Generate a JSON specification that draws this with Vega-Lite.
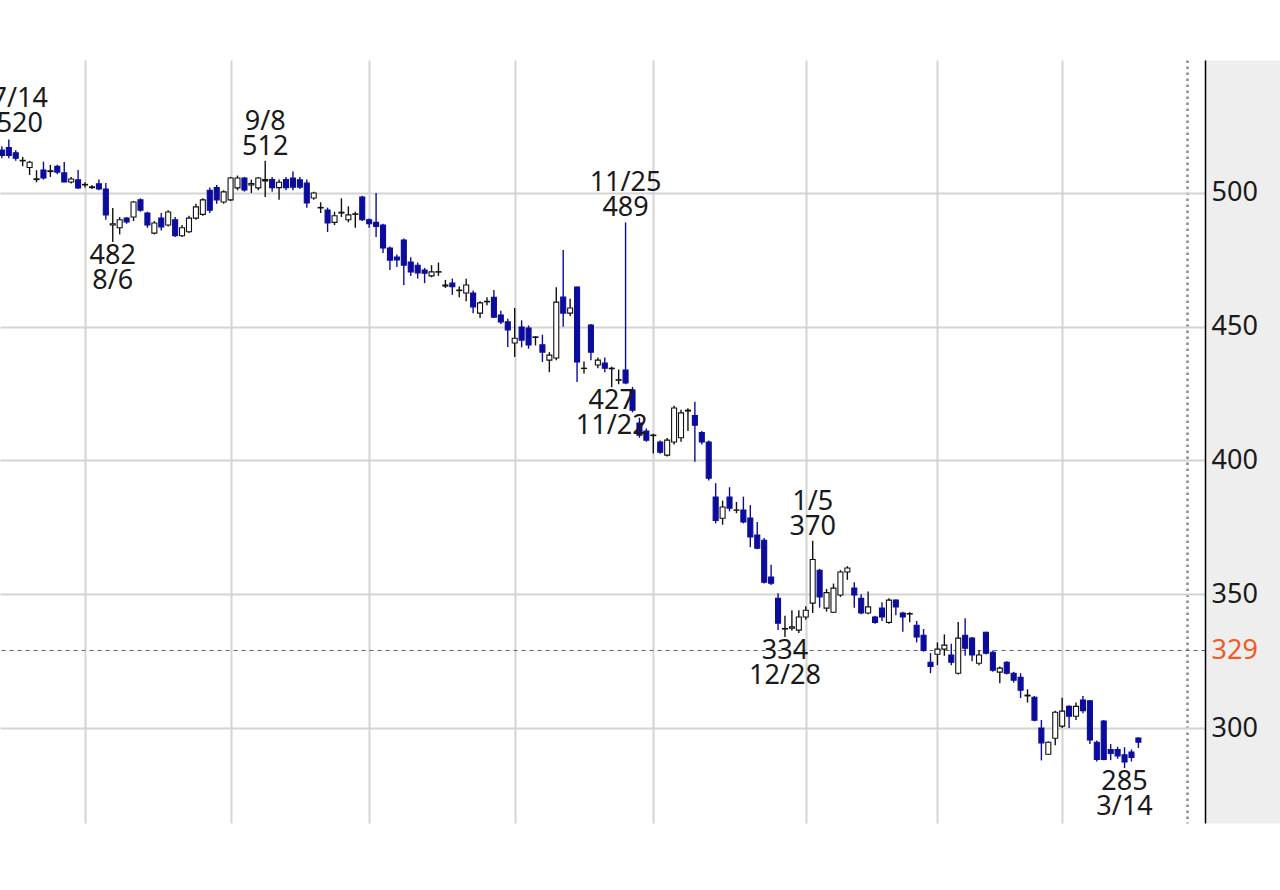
{
  "$schema": "https://vega.github.io/schema/vega-lite/v6.json",
  "width": 1205,
  "height": 763,
  "autosize": {"type": "none"},
  "padding": {"left": 0, "top": 60, "right": 75, "bottom": 67},
  "background": "#ffffff",
  "view": {"stroke": null},
  "data": {"values": [
    {"d":"2021-07-13","o":516,"h":517.5,"l":513,"c":514},
    {"d":"2021-07-14","o":517,"h":520,"l":513,"c":514,"lab":"7/14\n520","pos":"edge"},
    {"d":"2021-07-15","o":515,"h":516,"l":512,"c":513},
    {"d":"2021-07-16","o":512,"h":513.5,"l":510,"c":512.2},
    {"d":"2021-07-19","o":509.5,"h":512,"l":506.7,"c":511.5},
    {"d":"2021-07-20","o":505,"h":508.5,"l":504,"c":505.3},
    {"d":"2021-07-21","o":508.6,"h":511.7,"l":505,"c":505.6},
    {"d":"2021-07-26","o":508,"h":510.5,"l":506,"c":508.3},
    {"d":"2021-07-27","o":510,"h":510.5,"l":507,"c":507.8},
    {"d":"2021-07-28","o":507.5,"h":511.6,"l":504,"c":504.1},
    {"d":"2021-07-29","o":504.1,"h":506,"l":503.5,"c":505.2},
    {"d":"2021-07-30","o":504.9,"h":508.6,"l":501.5,"c":501.9},
    {"d":"2021-08-02","o":503,"h":504,"l":502,"c":503.2},
    {"d":"2021-08-03","o":502,"h":503,"l":501.5,"c":502.3},
    {"d":"2021-08-04","o":503.4,"h":505,"l":501,"c":501.5},
    {"d":"2021-08-05","o":501.5,"h":503.7,"l":490,"c":491.8},
    {"d":"2021-08-06","o":488,"h":494.4,"l":481.7,"c":488.5,"lab":"482\n8/6","pos":"lo"},
    {"d":"2021-08-10","o":487,"h":491,"l":484.5,"c":490},
    {"d":"2021-08-11","o":490.6,"h":491,"l":488.5,"c":489.2},
    {"d":"2021-08-12","o":491,"h":497,"l":489.5,"c":496.6},
    {"d":"2021-08-13","o":497.4,"h":498,"l":493,"c":493.6},
    {"d":"2021-08-16","o":492.5,"h":493,"l":487,"c":488},
    {"d":"2021-08-17","o":485,"h":489.5,"l":484.5,"c":488.8},
    {"d":"2021-08-18","o":490.6,"h":492.5,"l":486,"c":487.3},
    {"d":"2021-08-19","o":488,"h":493.5,"l":487.5,"c":492.9},
    {"d":"2021-08-20","o":490,"h":491,"l":483.5,"c":484},
    {"d":"2021-08-23","o":484,"h":488,"l":483.5,"c":487},
    {"d":"2021-08-24","o":485.5,"h":491.5,"l":485,"c":490.6},
    {"d":"2021-08-25","o":490.6,"h":496,"l":490,"c":494.8},
    {"d":"2021-08-26","o":492,"h":498,"l":491.5,"c":497.4},
    {"d":"2021-08-27","o":501,"h":502,"l":492.5,"c":493.6},
    {"d":"2021-08-30","o":502,"h":503,"l":496,"c":497.4},
    {"d":"2021-08-31","o":496.6,"h":501,"l":496,"c":500.4},
    {"d":"2021-09-01","o":497.4,"h":506,"l":497,"c":505.6},
    {"d":"2021-09-02","o":501.9,"h":506.5,"l":501,"c":505.6},
    {"d":"2021-09-03","o":505.6,"h":506,"l":500.5,"c":501.1},
    {"d":"2021-09-06","o":503,"h":505,"l":500,"c":503.5},
    {"d":"2021-09-07","o":501.9,"h":506,"l":501,"c":505.6},
    {"d":"2021-09-08","o":504.5,"h":512,"l":498.5,"c":505,"lab":"9/8\n512","pos":"hi"},
    {"d":"2021-09-09","o":505,"h":506,"l":500.5,"c":502},
    {"d":"2021-09-10","o":502,"h":505,"l":497.5,"c":504},
    {"d":"2021-09-13","o":505,"h":506,"l":501,"c":502},
    {"d":"2021-09-14","o":505.6,"h":508,"l":501,"c":502.2},
    {"d":"2021-09-15","o":504.9,"h":506,"l":501.5,"c":502.2},
    {"d":"2021-09-16","o":503.7,"h":505,"l":494.5,"c":496.3},
    {"d":"2021-09-17","o":498.1,"h":500.5,"l":497.5,"c":500},
    {"d":"2021-09-21","o":494.4,"h":496.5,"l":492.5,"c":494.6},
    {"d":"2021-09-22","o":493.6,"h":494.5,"l":485.4,"c":488.8},
    {"d":"2021-09-24","o":489,"h":493,"l":488,"c":491.5},
    {"d":"2021-09-27","o":492.5,"h":498,"l":491,"c":492.8},
    {"d":"2021-09-28","o":490,"h":495,"l":489,"c":491.8},
    {"d":"2021-09-29","o":492,"h":493,"l":487,"c":492.2},
    {"d":"2021-09-30","o":498.5,"h":499,"l":489.5,"c":490},
    {"d":"2021-10-01","o":490,"h":490.5,"l":487,"c":488.5},
    {"d":"2021-10-04","o":489,"h":500,"l":483.5,"c":487.5},
    {"d":"2021-10-05","o":488,"h":488.5,"l":477.6,"c":479.4},
    {"d":"2021-10-06","o":479.4,"h":480,"l":471.2,"c":474.9},
    {"d":"2021-10-07","o":476,"h":477,"l":472.3,"c":475},
    {"d":"2021-10-08","o":482.4,"h":483,"l":465.6,"c":473},
    {"d":"2021-10-11","o":474.2,"h":476,"l":469,"c":470.5},
    {"d":"2021-10-12","o":473,"h":474,"l":468,"c":470.1},
    {"d":"2021-10-13","o":471.2,"h":472,"l":466.3,"c":470},
    {"d":"2021-10-14","o":469,"h":473,"l":468.5,"c":470.5},
    {"d":"2021-10-15","o":470.4,"h":474,"l":469,"c":470.6},
    {"d":"2021-10-18","o":465.2,"h":467.5,"l":464.5,"c":465.6},
    {"d":"2021-10-19","o":466.3,"h":468,"l":461.9,"c":465},
    {"d":"2021-10-20","o":463.5,"h":465,"l":461,"c":463.7},
    {"d":"2021-10-21","o":462.6,"h":467.9,"l":459.5,"c":465.6},
    {"d":"2021-10-22","o":462.6,"h":463.5,"l":455,"c":457.4},
    {"d":"2021-10-25","o":455.1,"h":459.5,"l":453.3,"c":458.9},
    {"d":"2021-10-26","o":459.3,"h":461,"l":458,"c":459.5},
    {"d":"2021-10-27","o":461,"h":463.7,"l":453.3,"c":453.6},
    {"d":"2021-10-28","o":454.4,"h":456,"l":451,"c":451.8},
    {"d":"2021-10-29","o":451.8,"h":453,"l":442.4,"c":448.8},
    {"d":"2021-11-01","o":443.9,"h":457,"l":438.7,"c":445.7},
    {"d":"2021-11-02","o":449.9,"h":452.4,"l":442.3,"c":445},
    {"d":"2021-11-04","o":449.5,"h":450.5,"l":441.8,"c":443.2},
    {"d":"2021-11-05","o":446,"h":446.5,"l":443,"c":446.2},
    {"d":"2021-11-08","o":443.2,"h":447,"l":436.8,"c":440.5},
    {"d":"2021-11-09","o":437.5,"h":440.5,"l":433,"c":439.4},
    {"d":"2021-11-10","o":438.3,"h":464.8,"l":437.5,"c":459.2},
    {"d":"2021-11-11","o":461.1,"h":478.7,"l":450,"c":455.1},
    {"d":"2021-11-12","o":455.1,"h":460.5,"l":454,"c":457},
    {"d":"2021-11-15","o":464.8,"h":465,"l":429.3,"c":436.8},
    {"d":"2021-11-16","o":434.4,"h":437,"l":432.5,"c":434.5},
    {"d":"2021-11-17","o":450.6,"h":451,"l":437.5,"c":440.5},
    {"d":"2021-11-18","o":435.7,"h":438.5,"l":434.5,"c":437.5},
    {"d":"2021-11-19","o":436.4,"h":438.5,"l":433,"c":434.5},
    {"d":"2021-11-22","o":434.3,"h":435,"l":427.4,"c":434.5,"lab":"427\n11/22","pos":"lo"},
    {"d":"2021-11-24","o":430,"h":434,"l":428.5,"c":430.2},
    {"d":"2021-11-25","o":433.8,"h":489,"l":428.5,"c":429,"lab":"11/25\n489","pos":"hi"},
    {"d":"2021-11-26","o":426.3,"h":427.5,"l":418,"c":418.8},
    {"d":"2021-11-29","o":414,"h":416,"l":408.5,"c":409.5},
    {"d":"2021-11-30","o":411,"h":412,"l":407,"c":407.6},
    {"d":"2021-12-01","o":409.3,"h":410,"l":402.6,"c":409.5},
    {"d":"2021-12-02","o":406.9,"h":407.5,"l":402.5,"c":403.1},
    {"d":"2021-12-03","o":402,"h":408.4,"l":401.5,"c":407.6},
    {"d":"2021-12-06","o":406.9,"h":420.5,"l":406,"c":419.6},
    {"d":"2021-12-07","o":408.5,"h":419,"l":407,"c":417.8},
    {"d":"2021-12-08","o":418.5,"h":419.5,"l":411,"c":418.8},
    {"d":"2021-12-09","o":416.8,"h":422,"l":399.5,"c":413.2},
    {"d":"2021-12-10","o":410.4,"h":411,"l":406,"c":406.9},
    {"d":"2021-12-13","o":406.9,"h":407.5,"l":392.5,"c":393.4},
    {"d":"2021-12-14","o":386.3,"h":391.5,"l":376.5,"c":377.6},
    {"d":"2021-12-15","o":378.4,"h":385,"l":376,"c":382.6},
    {"d":"2021-12-16","o":386.3,"h":390,"l":381,"c":382.2},
    {"d":"2021-12-17","o":381.4,"h":384.5,"l":380.3,"c":381.5},
    {"d":"2021-12-20","o":381.5,"h":386.5,"l":376.5,"c":377},
    {"d":"2021-12-21","o":378.5,"h":383.3,"l":367.6,"c":371.4},
    {"d":"2021-12-22","o":372.1,"h":377,"l":366.8,"c":367.2},
    {"d":"2021-12-23","o":370.2,"h":371,"l":354,"c":354.5},
    {"d":"2021-12-24","o":356.4,"h":361,"l":353.5,"c":354.1},
    {"d":"2021-12-27","o":348.5,"h":350.4,"l":336.6,"c":339.2},
    {"d":"2021-12-28","o":337,"h":342,"l":334,"c":337.2,"lab":"334\n12/28","pos":"lo"},
    {"d":"2021-12-29","o":337.3,"h":344,"l":336.5,"c":337.8},
    {"d":"2021-12-30","o":336.6,"h":344,"l":335.5,"c":341.5},
    {"d":"2022-01-04","o":341.5,"h":345.5,"l":340.5,"c":344},
    {"d":"2022-01-05","o":346.7,"h":370,"l":343,"c":363,"lab":"1/5\n370","pos":"hi"},
    {"d":"2022-01-06","o":359,"h":359.5,"l":345,"c":349},
    {"d":"2022-01-07","o":344.8,"h":352,"l":343.5,"c":350.6},
    {"d":"2022-01-11","o":343.3,"h":354,"l":343,"c":352.3},
    {"d":"2022-01-12","o":349.7,"h":359,"l":349,"c":358.3},
    {"d":"2022-01-13","o":358.3,"h":360.5,"l":355.4,"c":359.8},
    {"d":"2022-01-14","o":352.3,"h":354.5,"l":345,"c":349.7},
    {"d":"2022-01-17","o":348.5,"h":350,"l":342.5,"c":343},
    {"d":"2022-01-18","o":343,"h":351,"l":342.5,"c":345.3},
    {"d":"2022-01-19","o":341.5,"h":342,"l":339,"c":339.5},
    {"d":"2022-01-20","o":344.8,"h":347,"l":340,"c":341.5},
    {"d":"2022-01-21","o":339.5,"h":348.5,"l":339,"c":347.8},
    {"d":"2022-01-24","o":347.8,"h":348,"l":342.2,"c":345.3},
    {"d":"2022-01-25","o":343,"h":343.5,"l":336,"c":341.5},
    {"d":"2022-01-26","o":342.6,"h":343.3,"l":339.5,"c":342.8},
    {"d":"2022-01-27","o":338.4,"h":340,"l":332,"c":334},
    {"d":"2022-01-28","o":334.7,"h":337,"l":328.5,"c":329},
    {"d":"2022-01-31","o":324.6,"h":328,"l":320.5,"c":323},
    {"d":"2022-02-01","o":327.6,"h":332,"l":323.5,"c":329.5},
    {"d":"2022-02-02","o":329.5,"h":335,"l":327,"c":331},
    {"d":"2022-02-03","o":327.3,"h":331.5,"l":323.5,"c":324.6},
    {"d":"2022-02-04","o":320.5,"h":339.6,"l":320,"c":333.6},
    {"d":"2022-02-07","o":334.7,"h":341,"l":327,"c":329.8},
    {"d":"2022-02-08","o":333.6,"h":334,"l":325,"c":327.3},
    {"d":"2022-02-09","o":324.2,"h":329,"l":323.5,"c":327.3},
    {"d":"2022-02-10","o":335.8,"h":336,"l":327.5,"c":328},
    {"d":"2022-02-14","o":328.3,"h":329,"l":321,"c":321.6},
    {"d":"2022-02-15","o":320.9,"h":323,"l":316.7,"c":322.4},
    {"d":"2022-02-16","o":324.6,"h":325,"l":320,"c":320.5},
    {"d":"2022-02-17","o":320.5,"h":321,"l":317,"c":317.9},
    {"d":"2022-02-18","o":319,"h":320.5,"l":311.2,"c":314.1},
    {"d":"2022-02-21","o":312,"h":314.5,"l":309.5,"c":312.3},
    {"d":"2022-02-22","o":311.5,"h":312,"l":302.5,"c":302.9},
    {"d":"2022-02-24","o":300,"h":303,"l":287.9,"c":294.4},
    {"d":"2022-02-25","o":290.2,"h":295,"l":290,"c":294.7},
    {"d":"2022-02-28","o":296.2,"h":306.5,"l":293.6,"c":305.9},
    {"d":"2022-03-01","o":300.7,"h":311.3,"l":300,"c":306.3},
    {"d":"2022-03-02","o":308.1,"h":308.5,"l":300,"c":304.4},
    {"d":"2022-03-03","o":304.4,"h":309.5,"l":303,"c":308.1},
    {"d":"2022-03-04","o":310.5,"h":312,"l":305.5,"c":306.5},
    {"d":"2022-03-07","o":310.2,"h":310.5,"l":294,"c":295.5},
    {"d":"2022-03-08","o":294.7,"h":295.3,"l":287.5,"c":288.3},
    {"d":"2022-03-09","o":302.6,"h":303,"l":288,"c":288.3},
    {"d":"2022-03-10","o":292,"h":294,"l":288,"c":290.5},
    {"d":"2022-03-11","o":292,"h":293,"l":288.5,"c":289.6},
    {"d":"2022-03-14","o":290,"h":292.8,"l":285,"c":287.3,"lab":"285\n3/14","pos":"lo"},
    {"d":"2022-03-15","o":291,"h":292,"l":287.5,"c":289},
    {"d":"2022-03-16","o":296.3,"h":296.5,"l":292.5,"c":294.7}
  ]},
  "transform": [
    {"window": [{"op": "row_number", "as": "rn"}], "sort": [{"field": "d", "order": "ascending"}]}
  ],
  "encoding": {
    "x": {
      "field": "rn",
      "type": "quantitative",
      "scale": {"domain": [0.73, 174.61], "nice": false, "zero": false, "padding": 0},
      "axis": {
        "values": [13, 34, 54, 75, 95, 117, 136, 154, 172],
        "labels": false,
        "ticks": false,
        "domain": false,
        "title": null,
        "grid": true,
        "gridColor": {"condition": {"test": "datum.value === 172", "value": "#8a8a8a"}, "value": "#d4d4d4"},
        "gridDash": {"condition": {"test": "datum.value === 172", "value": [2.5, 3.5]}, "value": []},
        "gridWidth": {"condition": {"test": "datum.value === 172", "value": 2.5}, "value": 2}
      }
    }
  },
  "layer": [
    {
      "mark": {"type": "rule", "strokeWidth": 1.4, "clip": true},
      "encoding": {
        "y": {
          "field": "l",
          "type": "quantitative",
          "scale": {"domain": [264.5, 549.7], "nice": false, "zero": false},
          "axis": {
            "orient": "right",
            "offset": 37.5,
            "domainColor": "#eeeeee",
            "domainWidth": 75,
            "labels": false,
            "ticks": false,
            "grid": false,
            "title": null
          }
        },
        "y2": {"field": "h"},
        "stroke": {"condition": {"test": "datum.c < datum.o", "value": "#0c0c9c"}, "value": "#111111"}
      }
    },
    {
      "mark": {"type": "bar", "width": 5, "strokeWidth": 1.1, "clip": true},
      "encoding": {
        "y": {
          "field": "o",
          "type": "quantitative",
          "scale": {"domain": [264.5, 549.7], "nice": false, "zero": false},
          "axis": {
            "orient": "right",
            "values": [300, 329, 350, 400, 450, 500],
            "ticks": false,
            "domainColor": "#000000",
            "domainWidth": 1.5,
            "labelFont": "Noto Sans",
            "labelFontSize": 27,
            "labelPadding": 6,
            "labelColor": {"condition": {"test": "datum.value === 329", "value": "#f05a24"}, "value": "#1a1a1a"},
            "grid": true,
            "gridColor": {"condition": {"test": "datum.value === 329", "value": "#666666"}, "value": "#d4d4d4"},
            "gridDash": {"condition": {"test": "datum.value === 329", "value": [4, 4]}, "value": []},
            "gridWidth": {"condition": {"test": "datum.value === 329", "value": 1.2}, "value": 2},
            "title": null
          }
        },
        "y2": {"field": "c"},
        "fill": {"condition": {"test": "datum.c < datum.o", "value": "#0c0c9c"}, "value": "#ffffff"},
        "stroke": {"condition": {"test": "datum.c < datum.o", "value": "#0c0c9c"}, "value": "#111111"}
      }
    },
    {
      "transform": [{"filter": "datum.pos === 'hi'"}],
      "mark": {"type": "text", "font": "Noto Sans", "fontSize": 27, "lineHeight": 25, "lineBreak": "\n", "baseline": "alphabetic", "align": "center", "dy": -31, "color": "#1a1a1a"},
      "encoding": {
        "y": {"field": "h", "type": "quantitative", "axis": null},
        "text": {"field": "lab"}
      }
    },
    {
      "transform": [{"filter": "datum.pos === 'edge'"}],
      "mark": {"type": "text", "font": "Noto Sans", "fontSize": 27, "lineHeight": 25, "lineBreak": "\n", "baseline": "alphabetic", "align": "center", "dy": -32, "dx": 11, "color": "#1a1a1a"},
      "encoding": {
        "y": {"field": "h", "type": "quantitative", "axis": null},
        "text": {"field": "lab"}
      }
    },
    {
      "transform": [{"filter": "datum.pos === 'lo'"}],
      "mark": {"type": "text", "font": "Noto Sans", "fontSize": 27, "lineHeight": 25, "lineBreak": "\n", "baseline": "top", "align": "center", "dy": 1, "color": "#1a1a1a"},
      "encoding": {
        "y": {"field": "l", "type": "quantitative", "axis": null},
        "text": {"field": "lab"}
      }
    }
  ],
  "resolve": {"axis": {"y": "independent"}}
}
